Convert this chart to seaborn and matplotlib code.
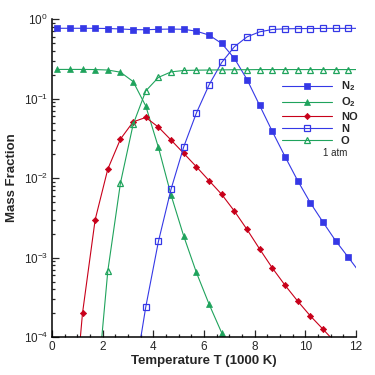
import matplotlib
matplotlib.use("Agg")
import matplotlib.pyplot as plt
import numpy as np
import pandas as pd
import seaborn as sns
from matplotlib.lines import Line2D
from matplotlib.ticker import LogLocator, MultipleLocator

# Temperature grid of the markers (1000 K); the last point lies past the axis
# edge so that the lines run to T = 12.
T = [0.2, 0.7, 1.2, 1.7, 2.2, 2.7, 3.2, 3.7, 4.2, 4.7, 5.2, 5.7, 6.2,
     6.7, 7.2, 7.7, 8.2, 8.7, 9.2, 9.7, 10.2, 10.7, 11.2, 11.7, 12.2]

N2 = [0.767, 0.767, 0.767, 0.766, 0.762, 0.752, 0.738, 0.735, 0.745, 0.75,
      0.745, 0.705, 0.63, 0.494, 0.321, 0.174, 0.082, 0.0386, 0.0187,
      0.0093, 0.0049, 0.0028, 0.00163, 0.00101, 0.00062]
O2 = [0.233, 0.233, 0.233, 0.232, 0.229, 0.215, 0.164, 0.0806, 0.0243,
      0.0061, 0.00186, 0.00065, 0.00026, 0.000113, 4.7e-5] + [np.nan] * 10
NO = [np.nan, 3.2e-6, 2.0e-4, 3.0e-3, 0.013, 0.031, 0.051, 0.058, 0.0438,
      0.0301, 0.0205, 0.0139, 0.0093, 0.00624, 0.00385, 0.00226, 0.00128,
      7.4e-4, 4.5e-4, 2.84e-4, 1.85e-4, 1.26e-4, 8.5e-5, np.nan, np.nan]
N = [np.nan] * 6 + [2.5e-5, 2.4e-4, 1.6e-3, 7.3e-3, 0.0248, 0.066, 0.149,
                    0.285, 0.449, 0.598, 0.692, 0.741, 0.755, 0.760, 0.762,
                    0.764, 0.765, 0.765, 0.766]
O = [np.nan] * 3 + [1.2e-5, 6.8e-4, 8.7e-3, 0.0473, 0.125, 0.185, 0.217,
                    0.226, 0.228, 0.229, 0.230, 0.231, 0.231, 0.232, 0.232,
                    0.232, 0.232, 0.232, 0.232, 0.232, 0.232, 0.232]

BLUE = "#3538e6"
GREEN = "#1fa35c"
RED = "#c8001a"

SPECIES = [
    ("N2", N2, BLUE, "s", True, r"$\mathbf{N_2}$"),
    ("O2", O2, GREEN, "^", True, r"$\mathbf{O_2}$"),
    ("NO", NO, RED, "D", True, "NO"),
    ("N", N, BLUE, "s", False, "N"),
    ("O", O, GREEN, "^", False, "O"),
]


def marker_style(marker, filled, color):
    if filled:
        size = 3.2 if marker == "D" else 3.8
        return dict(marker=marker, markersize=size, markerfacecolor=color,
                    markeredgecolor=color, markeredgewidth=0.5)
    return dict(marker=marker, markersize=4.4, markerfacecolor="none",
                markeredgecolor=color, markeredgewidth=0.9)


def main() -> None:
    sns.set_style("white")
    plt.rcParams["font.family"] = ["Liberation Sans", "DejaVu Sans"]
    plt.rcParams["mathtext.fontset"] = "custom"
    plt.rcParams["mathtext.rm"] = "Liberation Sans"
    plt.rcParams["mathtext.bf"] = "Liberation Sans:bold"

    fig = plt.figure(figsize=(3.75, 3.75), dpi=100)
    ax = fig.add_axes([0.139, 0.101, 0.810, 0.848])

    handles = []
    for key, vals, color, marker, filled, label in SPECIES:
        df = pd.DataFrame({"T": T, "y": vals}).dropna()
        style = marker_style(marker, filled, color)
        sns.lineplot(data=df, x="T", y="y", ax=ax, color=color, lw=0.8,
                     estimator=None, sort=True, legend=False, **style)
        handles.append(Line2D([0], [0], color=color, lw=0.8, label=label, **style))

    ax.set_yscale("log")
    ax.set_xlim(0, 12)
    ax.set_ylim(1e-4, 1)
    ax.xaxis.set_major_locator(MultipleLocator(2))
    ax.xaxis.set_minor_locator(MultipleLocator(0.5))
    ax.yaxis.set_major_locator(LogLocator(base=10, numticks=10))
    ax.yaxis.set_minor_locator(LogLocator(base=10, subs=np.arange(2, 10), numticks=10))
    ax.tick_params(which="both", direction="in", left=True, bottom=True,
                   top=False, right=False, width=0.9)
    ax.tick_params(which="major", length=5, labelsize=8.5, pad=3)
    ax.tick_params(which="minor", length=2.5)
    for side in ("top", "right"):
        ax.spines[side].set_visible(False)
    for side in ("left", "bottom"):
        ax.spines[side].set_linewidth(1.1)
        ax.spines[side].set_color("black")

    ax.set_xlabel("Temperature T (1000 K)", fontsize=9.5, fontweight="bold", labelpad=1)
    ax.set_ylabel("Mass Fraction", fontsize=9.5, fontweight="bold", labelpad=4)

    leg = ax.legend(handles=handles, loc="upper left", bbox_to_anchor=(0.757, 0.81),
                    frameon=False, fontsize=8, handlelength=4.5,
                    labelspacing=0.2, handletextpad=0.8, borderpad=0,
                    borderaxespad=0)
    for txt in leg.get_texts():
        txt.set_fontweight("bold")
    ax.text(0.893, 0.578, "1 atm", transform=ax.transAxes, fontsize=7,
            ha="left", va="center")

    fig.savefig("out.png", dpi=100)
    plt.close(fig)


if __name__ == "__main__":
    main()
